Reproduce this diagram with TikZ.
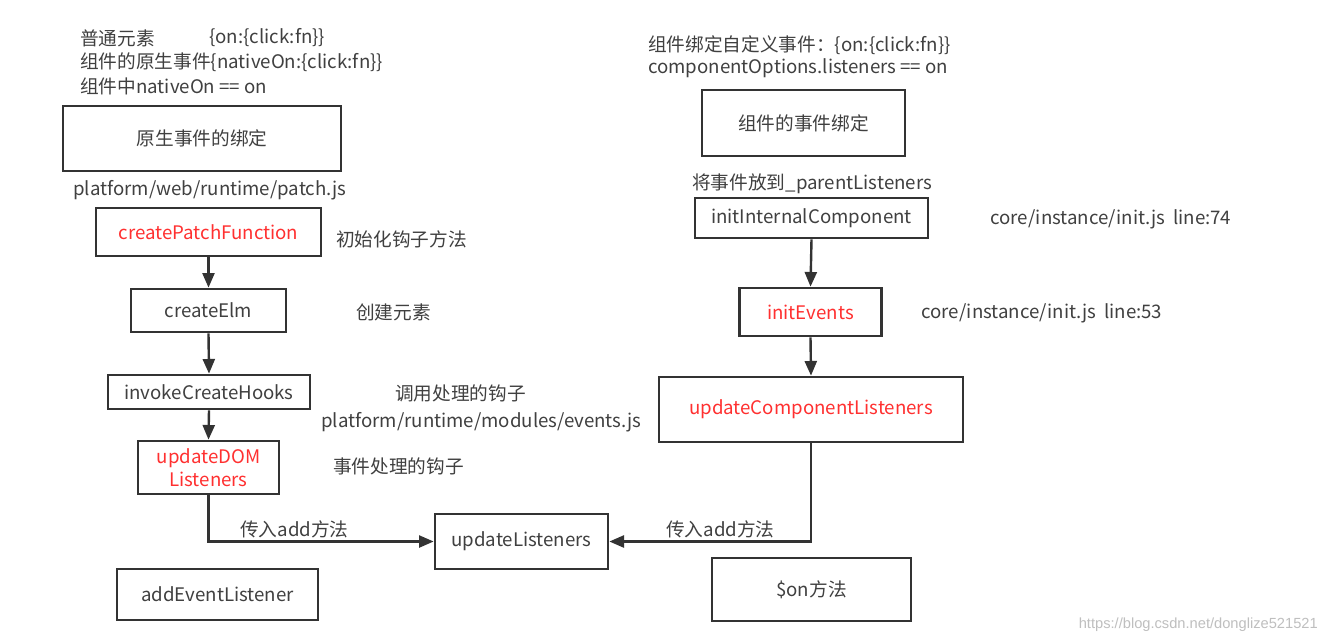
\documentclass[tikz,border=0pt]{standalone}
\usepackage{fontspec}
\setmainfont{Noto Sans CJK SC}
\newfontfamily\wmfont{Liberation Sans}
\usetikzlibrary{arrows.meta}
\definecolor{tx}{HTML}{404040}
\definecolor{ln}{HTML}{333333}
\definecolor{rd}{HTML}{FF3030}
\begin{document}
\begin{tikzpicture}[x=0.75pt,y=-0.75pt,
  box/.style 2 args={draw=ln,line width=2pt,minimum width=#1*0.75pt,minimum height=#2*0.75pt,inner sep=0pt,text=tx,font=\fontsize{14}{17}\selectfont},
  lbl/.style={anchor=west,inner sep=0pt,text=tx,font=\fontsize{14}{17}\selectfont},
  arr/.style={draw=ln,line width=1.8pt,-{Triangle[length=11pt,width=9pt]}}]
\useasboundingbox[fill=white] (0,0) rectangle (1324,643);
% left column
\node[lbl] (t1a) at (80,38) {普通元素};
\node[lbl] (t1b) at (209,38) {\{on:\{click:fn\}\}};
\node[lbl] (t2) at (80,62) {组件的原生事件\{nativeOn:\{click:fn\}\}};
\node[lbl] (t3) at (80,86) {组件中nativeOn\ ==\ on};
\node[box={278}{65}] (yb) at (202,138.5) {原生事件的绑定};
\node[lbl] (p1) at (73,190) {platform/web/runtime/patch.js};
\node[box={225}{48},text=rd] (cpf) at (208.5,232) {createPatchFunction};
\node[lbl] (n1) at (336,239) {初始化钩子方法};
\node[box={155}{43}] (celm) at (208.5,310.5) {createElm};
\node[lbl] (n2) at (356,312) {创建元素};
\node[box={202}{34}] (ich) at (209,392) {invokeCreateHooks};
\node[lbl] (n3) at (395,393) {调用处理的钩子};
\node[lbl] (p2) at (321,422) {platform/runtime/modules/events.js};
\node[box={141}{53},text=rd,align=center] (udl) at (208.5,467.5) {updateDOM\\Listeners};
\node[lbl] (n4) at (333,466) {事件处理的钩子};
\node[box={173}{55}] (ul) at (521.5,541.5) {updateListeners};
\node[box={201}{51}] (ael) at (217.5,594.5) {addEventListener};
\node[lbl] (a1) at (240,529) {传入add方法};
% right column
\node[lbl] (r1) at (648,45) {组件绑定自定义事件：\{on:\{click:fn\}\}};
\node[lbl] (r2) at (648,68) {componentOptions.listeners\ ==\ on};
\node[box={203}{66}] (cb) at (803.5,123) {组件的事件绑定};
\node[lbl] (r3) at (692,184) {将事件放到\_parentListeners};
\node[box={233}{40}] (iic) at (811.5,218) {initInternalComponent};
\node[lbl] (r4) at (990,219) {core/instance/init.js\ \ line:74};
\node[box={142}{48},text=rd] (ie) at (810.5,312) {initEvents};
\node[lbl] (r5) at (921,313) {core/instance/init.js\ \ line:53};
\node[box={304}{65},text=rd] (ucl) at (811,409.5) {updateComponentListeners};
\node[lbl] (a2) at (666,529) {传入add方法};
\node[box={199}{63}] (on) at (811.5,589.5) {\$on方法};
\node[anchor=east,inner sep=0pt,text=black!25,font=\wmfont\fontsize{11}{13}\selectfont] (wm) at (1318,625) {https://blog.csdn.net/donglize521521};
% connectors
\draw[arr] (cpf.south) -- (celm.north);
\draw[arr] (celm.south) -- (ich.north);
\draw[arr] (ich.south) -- (udl.north);
\draw[arr] (udl.south) |- (ul.west);
\draw[arr] (iic.south) -- (ie.north);
\draw[arr] (ie.south) -- (ucl.north);
\draw[arr] (ucl.south) |- (ul.east);
\end{tikzpicture}
\end{document}
